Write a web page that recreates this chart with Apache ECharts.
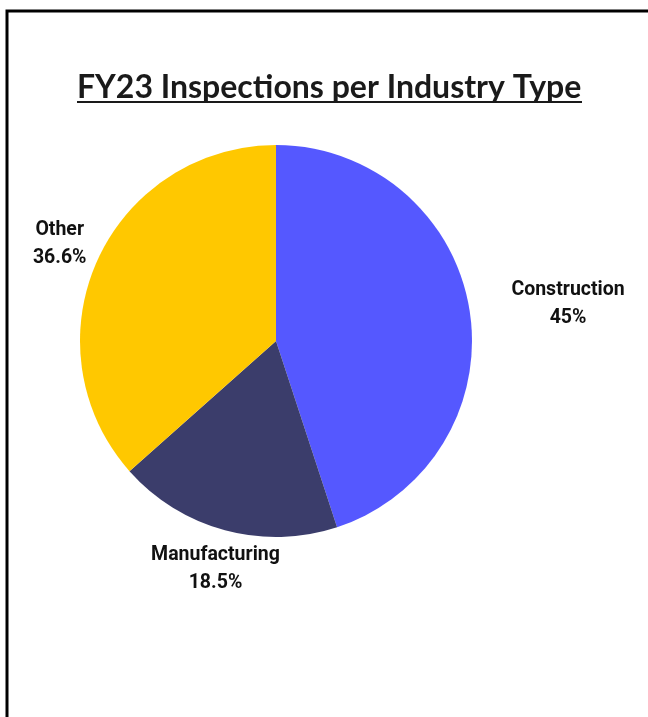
<!DOCTYPE html>
<html>
<head>
<meta charset="utf-8">
<script src="https://cdn.jsdelivr.net/npm/echarts@6/dist/echarts.min.js"></script>
<style>
  html, body { margin: 0; padding: 0; background: #fff; }
  #chart { width: 648px; height: 717px; }
</style>
</head>
<body>
<div id="chart"></div>
<script>
var titleText = 'FY23 Inspections per Industry Type';
var industries = ['Construction', 'Manufacturing', 'Other'];
var shares = [45, 18.5, 36.6];
var colors = ['#5558FF', '#3B3D6B', '#FFC800'];

var pieData = industries.map(function (name, i) {
    return { name: name, value: shares[i], itemStyle: { color: colors[i] } };
});

// nudge each label to sit where the original put it
var labelShift = [54, 6, 4];

var myChart = echarts.init(document.getElementById('chart'), null, { renderer: 'canvas' });

myChart.setOption({
    backgroundColor: '#fff',
    animation: false,
    title: {
        text: titleText,
        left: 77,
        top: 72,
        padding: 0,
        textStyle: {
            fontFamily: 'Lato',
            fontWeight: 'bold',
            fontSize: 32,
            color: '#1a1a1a'
        }
    },
    graphic: [
        // frame round the chart (open to the right and bottom)
        { type: 'polyline', shape: { points: [[7, 717], [7, 11], [648, 11]] },
          style: { stroke: '#000', lineWidth: 3, fill: null } },
        // title underline
        { type: 'line', shape: { x1: 77, y1: 102, x2: 582, y2: 102 },
          style: { stroke: '#1a1a1a', lineWidth: 2 } }
    ],
    series: [{
        type: 'pie',
        center: [276, 341],
        radius: 196,
        startAngle: 90,
        clockwise: true,
        avoidLabelOverlap: false,
        data: pieData,
        label: {
            show: true,
            position: 'outside',
            fontFamily: 'Roboto',
            fontWeight: 'bold',
            fontSize: 19.5,
            lineHeight: 28,
            color: '#111',
            formatter: function (p) { return p.name + '\n' + p.value + '%'; }
        },
        labelLine: { show: false, length: 40, length2: 0 },
        labelLayout: function (p) {
            return { align: 'center', dx: labelShift[p.dataIndex] };
        },
        emphasis: { disabled: true }
    }]
});
</script>
</body>
</html>
